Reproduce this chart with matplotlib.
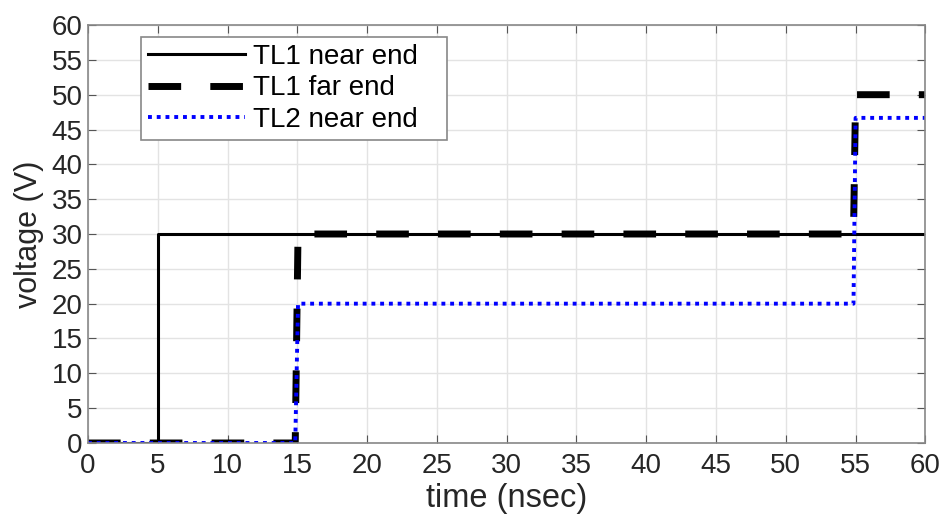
import numpy as np
import matplotlib.pyplot as plt

plt.rcParams['font.family'] = ['Liberation Sans', 'DejaVu Sans']

# step responses (time in ns, voltage in V)
t_near1 = [0, 5, 5, 60]
v_near1 = [0, 0, 30, 30]

t_far1 = [0, 14.85, 15.05, 54.85, 55.0, 60]
v_far1 = [0, 0, 30, 30, 50, 50]

t_near2 = [0, 14.85, 15.05, 54.85, 55.0, 60]
v_near2 = [0, 0, 20, 20, 46.67, 46.67]

XTICKS = np.arange(0, 61, 5)
YTICKS = np.arange(0, 61, 5)

fig = plt.figure(figsize=(9.43, 5.16), dpi=100)
ax = fig.add_axes([0.0933, 0.1415, 0.888, 0.81])

ax.plot(t_near1, v_near1, color="black", lw=2.2, label="TL1 near end")
ax.plot(t_far1, v_far1, color="black", lw=5, ls=(0, (4.7, 4.2)), label="TL1 far end")
ax.plot(t_near2, v_near2, color="blue", lw=2.8, ls=(0, (1, 1.25)), label="TL2 near end")

ax.set_xlim(0, 60)
ax.set_ylim(0, 60)
ax.set_xticks(XTICKS)
ax.set_yticks(YTICKS)
ax.grid(True, color="#e3e3e3", lw=1)
ax.set_axisbelow(True)
ax.tick_params(direction="in", top=True, right=True, length=6, color="#555555",
               labelsize=20, labelcolor="#262626", pad=4)
ax.tick_params(axis="x", pad=7)
for s in ax.spines.values():
    s.set_color("#888888")
    s.set_linewidth(1.2)

ax.set_xlabel("time (nsec)", fontsize=23.5, color="#262626", labelpad=3)
ax.set_ylabel("voltage (V)", fontsize=22, color="#262626", labelpad=5)

leg = ax.legend(loc="upper left", bbox_to_anchor=(0.063, 0.972, 0.366, 0.0),
                mode="expand", fontsize=20,
                handlelength=3.5, handletextpad=0.3, borderpad=0.25,
                borderaxespad=0, labelspacing=0.2, fancybox=False,
                framealpha=1, edgecolor="#888888")
leg.get_frame().set_linewidth(1.2)

fig.savefig("out.png", dpi=100)
